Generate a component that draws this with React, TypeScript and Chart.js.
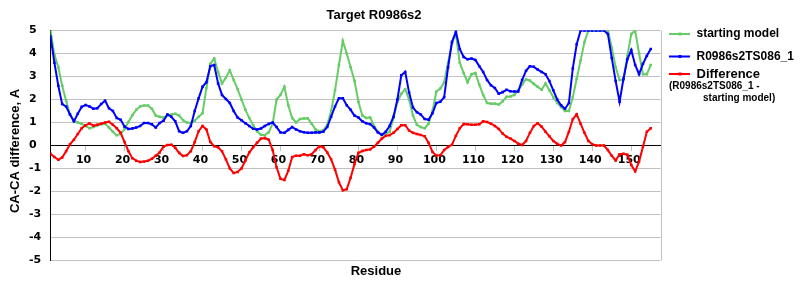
import { useEffect, useRef } from 'react';
import { Chart, registerables } from 'chart.js';

Chart.register(...registerables);

const residues = Array.from({ length: 155 }, (_, i) => i + 1);

const startingModel = [
  5.0, 3.95, 3.4, 2.6, 1.95, 1.35, 1.08, 1.0, 0.94, 0.85,
  0.75, 0.8, 0.87, 0.92, 0.95, 0.78, 0.6, 0.45, 0.5, 0.72,
  1.02, 1.32, 1.55, 1.7, 1.74, 1.74, 1.6, 1.3, 1.25, 1.22,
  1.3, 1.35, 1.38, 1.3, 1.1, 1.0, 0.98, 1.08, 1.25, 1.4,
  2.5, 3.55, 3.78, 3.2, 2.7, 2.95, 3.27, 2.85, 2.45, 2.0,
  1.55, 1.2, 0.88, 0.62, 0.47, 0.45, 0.58, 0.95, 2.0, 2.2,
  2.55, 1.75, 1.2, 1.0, 1.15, 1.17, 1.18, 0.95, 0.7, 0.62,
  0.66, 0.9, 1.5, 2.4, 3.5, 4.55, 4.0, 3.4, 2.8, 1.9,
  1.3, 1.2, 1.22, 0.85, 0.6, 0.45, 0.5, 0.6, 1.2, 1.9,
  2.25, 2.45, 2.0, 1.3, 0.9, 0.8, 0.75, 0.95, 1.5, 2.35,
  2.48, 2.75, 3.6, 4.45, 4.85, 3.6, 3.15, 2.75, 3.1, 3.15,
  2.65, 2.2, 1.85, 1.82, 1.82, 1.78, 1.92, 2.12, 2.13, 2.2,
  2.4, 2.65, 2.88, 2.82, 2.68, 2.55, 2.42, 2.7, 2.4, 2.1,
  1.85, 1.68, 1.5, 1.5, 2.1, 2.9, 3.7, 4.5, 5.0, 5.0,
  5.0, 5.0, 5.0, 5.0, 4.25, 3.4, 2.85, 2.85, 3.9, 4.85,
  5.0, 4.0, 3.1, 3.1, 3.5,
];

const modelTS086 = [
  4.74, 3.6, 2.6, 1.8, 1.7, 1.35, 1.05, 1.38, 1.68, 1.76,
  1.7, 1.6, 1.62, 1.8, 1.95, 1.62, 1.5, 1.2, 1.12, 0.82,
  0.72, 0.74, 0.78, 0.85, 0.98, 0.98, 0.92, 0.78, 0.98, 1.08,
  1.35, 1.25, 1.05, 0.62, 0.55, 0.62, 0.85, 1.5, 2.05, 2.55,
  2.75, 3.45, 3.5, 2.7, 2.2, 2.02, 1.85, 1.5, 1.22, 1.1,
  0.97, 0.85, 0.73, 0.7, 0.74, 0.85, 0.94, 1.0, 0.8, 0.57,
  0.55, 0.68, 0.8, 0.7, 0.62, 0.58, 0.55, 0.55, 0.57, 0.57,
  0.6, 0.8, 1.25, 1.7, 2.05, 2.05, 1.75, 1.55, 1.3, 1.22,
  1.05, 0.97, 0.93, 0.78, 0.57, 0.47, 0.6, 0.85, 1.25, 2.0,
  3.05, 3.2, 2.3, 1.65, 1.45, 1.35, 1.15, 1.12, 1.4, 1.85,
  1.9, 2.1, 3.4, 4.5, 4.95, 4.2, 3.85, 3.75, 3.78, 3.72,
  3.45, 3.2, 2.85, 2.62, 2.5, 2.25, 2.32, 2.42, 2.36, 2.35,
  2.35, 2.85, 3.25, 3.45, 3.42, 3.3, 3.2, 3.1, 2.8, 2.4,
  2.0, 1.75, 1.6, 1.85, 3.35, 4.4, 5.0, 5.0, 5.0, 5.0,
  5.0, 5.0, 5.0, 4.85, 3.8, 2.8, 1.9, 2.9, 3.75, 4.15,
  3.5, 3.1, 3.55, 3.9, 4.2,
];

const difference = [
  -0.36, -0.5, -0.62, -0.52, -0.25, 0.05, 0.25, 0.5, 0.75, 0.88,
  0.96, 0.86, 0.9, 0.95, 1.0, 1.03, 0.9, 0.75, 0.55, 0.15,
  -0.25, -0.55, -0.66, -0.72, -0.7, -0.66, -0.58, -0.45, -0.3, -0.05,
  0.02, 0.03, -0.1, -0.32, -0.46, -0.42, -0.25, 0.15, 0.62, 0.85,
  0.7, 0.15, -0.03, -0.08, -0.25, -0.6, -1.0, -1.2, -1.15, -1.0,
  -0.65, -0.3, -0.08, 0.12, 0.3, 0.32, 0.25, -0.2, -0.95, -1.45,
  -1.5, -1.1, -0.5, -0.45, -0.45, -0.38, -0.42, -0.38, -0.2, -0.03,
  -0.08, -0.3, -0.6, -1.05, -1.6, -1.95, -1.9, -1.4, -0.8, -0.32,
  -0.24, -0.2, -0.17, -0.05, 0.12, 0.3, 0.42, 0.45, 0.55, 0.72,
  0.88, 0.88, 0.65, 0.55, 0.5, 0.46, 0.4, 0.12, -0.28, -0.43,
  -0.42, -0.2, -0.06, 0.03, 0.42, 0.75, 0.93, 0.92, 0.9, 0.9,
  0.92, 1.05, 1.02, 0.95, 0.85, 0.72, 0.52, 0.38, 0.3, 0.2,
  0.08, 0.02, 0.2, 0.55, 0.85, 0.97, 0.82, 0.6, 0.4, 0.2,
  0.07, 0.0, 0.15, 0.6, 1.14, 1.36, 0.95, 0.55, 0.2, 0.05,
  0.0, 0.0, 0.0, -0.2, -0.45, -0.65, -0.38, -0.36, -0.4, -0.85,
  -1.12, -0.7, -0.05, 0.6, 0.75,
];

const xTickValues = [10, 20, 30, 40, 50, 60, 70, 80, 90, 100, 110, 120, 130, 140, 150];

const chartTitle = 'Target R0986s2';
const xTitle = 'Residue';
const yTitle = 'CA-CA difference, A';
const seriesNames = ['starting model', 'R0986s2TS086_1', 'Difference'];
const diffNote = ['(R0986s2TS086_1 -', 'starting model)'];

const GREEN = '#66cc66';
const BLUE = '#0000ff';
const RED = '#ff0000';
const SANS = '"Liberation Sans", Arial, sans-serif';

const decorPlugin = {
  id: 'decor',
  beforeDatasetsDraw(chart: any) {
    const { ctx, chartArea } = chart;
    ctx.save();
    ctx.strokeStyle = '#c0c0c0';
    ctx.lineWidth = 1;
    ctx.beginPath();
    ctx.moveTo(Math.round(chartArea.right) + 0.5, chartArea.top);
    ctx.lineTo(Math.round(chartArea.right) + 0.5, chartArea.bottom);
    ctx.stroke();
    ctx.restore();
  },
  afterDraw(chart: any) {
    const { ctx } = chart;
    ctx.save();
    ctx.fillStyle = '#000';
    ctx.textBaseline = 'middle';
    ctx.textAlign = 'center';
    ctx.font = `bold 13px ${SANS}`;
    ctx.fillText(chartTitle, 374, 15);
    ctx.fillText(xTitle, 376, 271);

    ctx.save();
    ctx.translate(15, 151);
    ctx.rotate(-Math.PI / 2);
    ctx.fillText(yTitle, 0, 0);
    ctx.restore();

    const items = [
      { color: GREEN, y: 34, text: seriesNames[0], size: 12 },
      { color: BLUE, y: 56.5, text: seriesNames[1], size: 12 },
      { color: RED, y: 74, text: seriesNames[2], size: 13 },
    ];
    ctx.textAlign = 'left';
    for (const it of items) {
      ctx.strokeStyle = it.color;
      ctx.lineWidth = 2;
      ctx.beginPath();
      ctx.moveTo(669, it.y);
      ctx.lineTo(690, it.y);
      ctx.stroke();
      ctx.fillStyle = it.color;
      ctx.fillRect(678.5, it.y - 1.5, 3, 3);
      ctx.fillStyle = '#000';
      ctx.font = `bold ${it.size}px ${SANS}`;
      ctx.fillText(it.text, 696.5, it.y);
    }
    ctx.font = `bold 10px ${SANS}`;
    ctx.fillText(diffNote[0], 669, 86.5);
    ctx.fillText(diffNote[1], 703, 98.5);
    ctx.restore();
  },
};

export default function App() {
  const ref = useRef<HTMLCanvasElement>(null);

  useEffect(() => {
    if (!ref.current) return;
    const common = {
      borderWidth: 2,
      pointRadius: 1.8,
      pointStyle: 'rect',
      pointBorderWidth: 0,
      tension: 0,
      fill: false,
    };
    const chart = new Chart(ref.current, {
      type: 'line',
      data: {
        labels: residues,
        datasets: [
          { ...common, label: seriesNames[0], data: startingModel, borderColor: GREEN, backgroundColor: GREEN, order: 2 },
          { ...common, label: seriesNames[1], data: modelTS086, borderColor: BLUE, backgroundColor: BLUE, order: 1 },
          { ...common, label: seriesNames[2], data: difference, borderColor: RED, backgroundColor: RED, order: 0 },
        ],
      } as any,
      options: {
        responsive: false,
        animation: false,
        devicePixelRatio: 1,
        layout: { padding: { left: 29, top: 30.5, right: 139.5, bottom: 39.5 } },
        plugins: {
          legend: { display: false },
          tooltip: { enabled: false },
          title: { display: false },
        },
        scales: {
          x: {
            type: 'linear',
            min: 1,
            max: 157.5,
            position: { y: 0 } as any,
            afterBuildTicks: (s: any) => {
              s.ticks = xTickValues.map((v) => ({ value: v }));
            },
            grid: { drawOnChartArea: false, drawTicks: true, tickLength: 5, color: '#c0c0c0' },
            border: { color: '#000', width: 1 },
            ticks: {
              font: { family: 'DejaVu Sans', weight: 'bold', size: 11 },
              color: '#000',
              padding: 3,
              labelOffset: -2,
              maxRotation: 0,
              autoSkip: false,
            },
          },
          y: {
            type: 'linear',
            min: -5,
            max: 5,
            afterFit: (s: any) => {
              s.width = 21.5;
            },
            grid: {
              color: (c: any) => (c.tick && c.tick.value === 0 ? '#000' : '#c0c0c0'),
              drawTicks: false,
            },
            border: { color: '#000', width: 1 },
            ticks: {
              stepSize: 1,
              crossAlign: 'far',
              padding: 0,
              font: { family: 'DejaVu Sans', weight: 'bold', size: 11 },
              color: '#000',
            },
          },
        },
      } as any,
      plugins: [decorPlugin],
    });
    return () => chart.destroy();
  }, []);

  return (
    <div style={{ position: 'absolute', left: 0, top: 0, width: 800, height: 300, background: '#fff' }}>
      <canvas ref={ref} width={800} height={300} style={{ display: 'block', width: 800, height: 300 }} />
    </div>
  );
}
